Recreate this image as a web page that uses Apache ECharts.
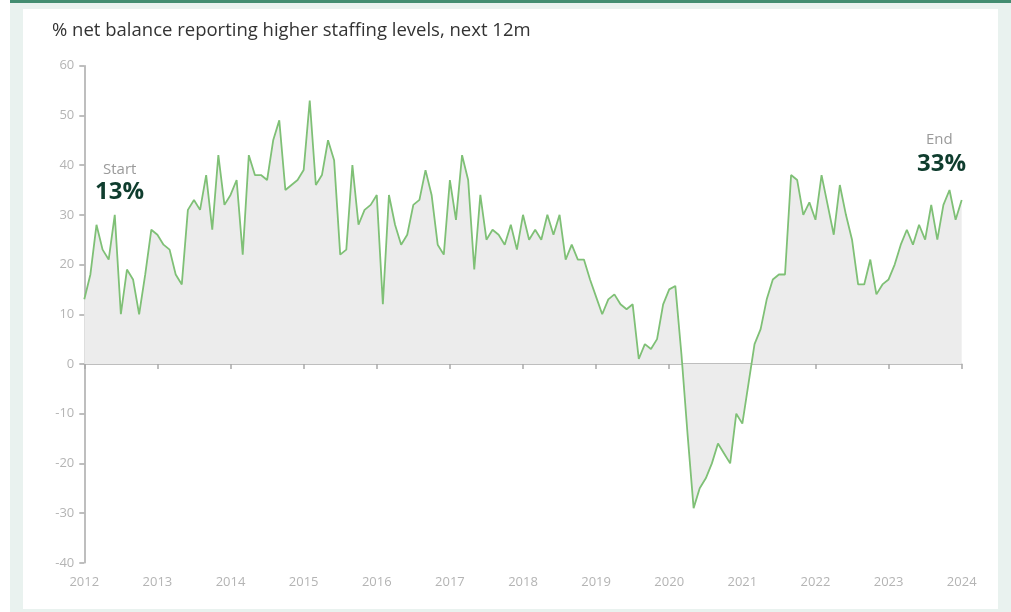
<!DOCTYPE html>
<html>
<head>
<meta charset="utf-8">
<script src="https://cdn.jsdelivr.net/npm/echarts@6/dist/echarts.min.js"></script>
<style>
html,body{margin:0;padding:0;background:#fff;}
#chart{width:1011px;height:612px;}
</style>
</head>
<body>
<div id="chart"></div>
<script>
// Monthly net balance values, Jan 2012 .. Jan 2024
var v2012 = [13, 18, 28, 23, 21, 30, 10, 19, 17, 10, 18, 27];
var v2013 = [26, 24, 23, 18, 16, 31, 33, 31, 38, 27, 42, 32];
var v2014 = [34, 37, 22, 42, 38, 38, 37, 45, 49, 35, 36, 37];
var v2015 = [39, 53, 36, 38, 45, 41, 22, 23, 40, 28, 31, 32];
var v2016 = [34, 12, 34, 28, 24, 26, 32, 33, 39, 34, 24, 22];
var v2017 = [37, 29, 42, 37, 19, 34, 25, 27, 26, 24, 28, 23];
var v2018 = [30, 25, 27, 25, 30, 26, 30, 21, 24, 21, 21, 17];
var v2019 = [13.5, 10, 13, 14, 12, 11, 12, 1, 4, 3, 5, 12];
var v2020 = [15, 15.7, 2, -14, -29, -25, -23, -20, -16, -18, -20, -10];
var v2021 = [-12, -4, 4, 7, 13, 17, 18, 18, 38, 37, 30, 32.5];
var v2022 = [29, 38, 32, 26, 36, 30, 25, 16, 16, 21, 14, 16];
var v2023 = [17, 20, 24, 27, 24, 28, 25, 32, 25, 32, 35, 29];
var v2024 = [33];

var years = ['2012','2013','2014','2015','2016','2017','2018','2019','2020','2021','2022','2023','2024'];
var yTicks = [-40, -30, -20, -10, 0, 10, 20, 30, 40, 50, 60];

var values = [].concat(v2012, v2013, v2014, v2015, v2016, v2017, v2018, v2019, v2020, v2021, v2022, v2023, v2024);
var months = [];
for (var i = 0; i < values.length; i++) {
  var y = years[Math.floor(i / 12)];
  var m = (i % 12) + 1;
  months.push(y + '-' + (m < 10 ? '0' + m : m));
}

var chart = echarts.init(document.getElementById('chart'), null, {renderer: 'canvas'});
var font = "'Open Sans', 'Noto Sans', sans-serif";
var labelColor = '#b4b4b4';
var axisColor = '#a9a9a9';

var option = {
  backgroundColor: '#ffffff',
  animation: false,
  graphic: [
    {type: 'rect', z: -10, silent: true, shape: {x: 10, y: 0, width: 1001, height: 612}, style: {fill: '#e9f2ef'}},
    {type: 'rect', z: -9, silent: true, shape: {x: 10, y: 0, width: 1001, height: 3}, style: {fill: '#438d71'}},
    {type: 'rect', z: -8, silent: true, shape: {x: 23, y: 9, width: 975, height: 600}, style: {fill: '#ffffff'}},
    {type: 'text', z: 10, left: 52, top: 21, style: {text: '% net balance reporting higher staffing levels, next 12m', fill: '#333333', font: "18.5px " + font}},
    {type: 'text', z: 10, left: 103, top: 162, style: {text: 'Start', fill: '#9a9a9a', font: "15px " + font}},
    {type: 'text', z: 10, left: 95, top: 180, style: {text: values[0] + '%', fill: '#0f3d2e', font: "bold 24px " + font}},
    {type: 'text', z: 10, left: 926, top: 132, style: {text: 'End', fill: '#9a9a9a', font: "15px " + font}},
    {type: 'text', z: 10, left: 917, top: 152, style: {text: values[values.length - 1] + '%', fill: '#0f3d2e', font: "bold 24px " + font}}
  ],
  grid: {left: 84.3, right: 49.3, top: 65.7, bottom: 49.2, containLabel: false},
  xAxis: [
    {
      type: 'category', data: months, boundaryGap: false,
      axisLine: {show: false, onZero: false},
      axisTick: {show: false},
      splitLine: {show: false},
      axisLabel: {
        interval: 11, margin: 13, color: labelColor, fontSize: 13, fontFamily: font,
        formatter: function (v) { return v.slice(0, 4); }
      }
    },
    {
      type: 'category', data: months, boundaryGap: false, position: 'bottom',
      axisLine: {show: true, onZero: true, lineStyle: {color: axisColor, width: 1.5}},
      axisTick: {show: true, interval: 11, length: 5, lineStyle: {color: axisColor, width: 1.5}},
      axisLabel: {show: false},
      splitLine: {show: false}
    }
  ],
  yAxis: {
    type: 'value', min: yTicks[0], max: yTicks[yTicks.length - 1], interval: 10,
    axisLine: {show: true, lineStyle: {color: axisColor, width: 1.5}},
    axisTick: {show: true, length: 5, lineStyle: {color: axisColor, width: 1.5}},
    splitLine: {show: false},
    axisLabel: {color: labelColor, fontSize: 13, fontFamily: font, margin: 10}
  },
  series: [{
    type: 'line', xAxisIndex: 0, data: values, symbol: 'none', smooth: false,
    lineStyle: {color: '#7fc076', width: 1.8},
    areaStyle: {color: '#ececec', opacity: 1, origin: 0},
    z: 2
  }]
};
chart.setOption(option);
</script>
</body>
</html>
